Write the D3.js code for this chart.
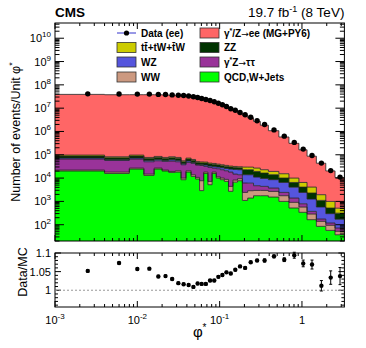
<!DOCTYPE html>
<html>
<head>
<meta charset="utf-8">
<script src="https://cdn.jsdelivr.net/npm/d3@7"></script>
<style>
  html, body { margin: 0; padding: 0; background: #fff; }
  svg { display: block; font-family: "Liberation Sans", Arial, Helvetica, sans-serif; }
</style>
</head>
<body>
<div id="chart"></div>
<script>
// ---- data ----
// phi* bin edges
const edges = [0.001, 0.004, 0.008, 0.012, 0.016, 0.020, 0.024, 0.029, 0.034, 0.039, 0.045,
  0.051, 0.057, 0.064, 0.072, 0.081, 0.091, 0.102, 0.114, 0.128, 0.145, 0.165, 0.189,
  0.219, 0.258, 0.312, 0.391, 0.524, 0.695, 0.918, 1.153, 1.496, 1.947, 2.522, 3.277];

// data (ee), events / unit phi*
const dataEE = [4.1e7, 4.05e7, 4.0e7, 4.0e7, 3.9e7, 3.85e7, 3.7e7, 3.6e7, 3.5e7, 3.3e7,
  3.1e7, 2.86e7, 2.58e7, 2.35e7, 2.14e7, 1.87e7, 1.63e7, 1.39e7, 1.17e7, 9.5e6,
  8.1e6, 6.5e6, 5.2e6, 4.1e6, 2.9e6, 2.0e6, 1.17e6, 6.3e5, 3.4e5, 1.75e5,
  9.3e4, 4.4e4, 2.1e4, 1.1e4];

// gamma*/Z -> ee (MG+PY6)
const dyEE = [3.89e7, 3.76e7, 3.77e7, 3.77e7, 3.75e7, 3.70e7, 3.58e7, 3.52e7, 3.44e7, 3.25e7,
  3.07e7, 2.81e7, 2.54e7, 2.31e7, 2.09e7, 1.82e7, 1.57e7, 1.33e7, 1.11e7, 9.05e6,
  7.6e6, 6.1e6, 4.9e6, 3.8e6, 2.68e6, 1.83e6, 1.06e6, 5.65e5, 3.0e5, 1.57e5,
  8.3e4, 4.15e4, 1.93e4, 1.01e4];

// backgrounds, in thousands of events / unit phi*
const K = 1e3;
const qcdWJets = [20.0, 15.8, 24.3, 13.0, 24.3, 20.0, 17.5, 18.1, 8.5, 18.1, 11.8, 9.1, 2.9,
  15.8, 5.2, 15.8, 10.0, 8.5, 7.2, 2.7, 6.7, 7.7, 1.10, 1.39, 1.75, 1.75, 1.53, 1.0,
  0.52, 0.34, 0.164, 0.085, 0.057, 0.037];
const ww = [2.0, 2.3, 2.5, 1.8, 2.5, 2.0, 1.8, 2.5, 1.5, 2.5, 2.1, 1.6, 4.8, 2.3, 2.0, 2.3,
  1.4, 1.5, 1.6, 1.7, 1.5, 1.7, 1.33, 1.48, 1.21, 1.21, 1.15, 0.75, 0.39, 0.23, 0.122,
  0.054, 0.037, 0.015];
const zTauTau = [43.2, 39.0, 38.4, 35.3, 28.5, 29.8, 34.2, 29.5, 27.3, 26.3, 28.6, 25.3, 27.2,
  13.5, 21.4, 8.7, 13.7, 12.8, 11.8, 13.7, 6.6, 4.5, 3.7, 3.2, 1.74, 1.44, 1.05, 0.68,
  0.48, 0.22, 0.087, 0.036, 0.024, 0.020];
const wz = [6.8, 4.0, 6.8, 7.1, 7.9, 5.4, 7.6, 7.1, 3.8, 6.6, 4.4, 2.5, 2.0, 4.5, 4.1, 4.8,
  4.5, 5.0, 5.4, 6.2, 8.7, 8.9, 7.8, 7.8, 6.3, 5.3, 4.8, 4.1, 2.7, 1.64, 0.89, 0.40,
  0.18, 0.10];
const zz = [15.7, 13.3, 15.7, 12.5, 13.8, 12.5, 13.3, 12.5, 9.0, 11.6, 10.2, 8.4, 7.9, 7.9,
  7.1, 6.9, 6.4, 6.0, 5.7, 5.3, 5.1, 5.0, 8.9, 8.9, 8.3, 6.7, 5.4, 3.5, 2.4, 1.67, 1.02,
  0.53, 0.22, 0.14];
const ttbar = [9.1, 7.7, 9.1, 7.2, 8.0, 7.2, 7.7, 7.2, 5.2, 6.8, 5.9, 4.9, 4.6, 4.6, 4.1, 4.0,
  3.7, 3.5, 3.3, 3.1, 3.0, 2.9, 6.8, 6.8, 7.5, 6.4, 5.4, 5.3, 3.5, 2.4, 1.82, 0.83, 0.48,
  0.20];

// Data/MC
const ratio = [1.052, 1.073, 1.057, 1.058, 1.037, 1.038, 1.030, 1.019, 1.016, 1.014, 1.009,
  1.018, 1.017, 1.017, 1.026, 1.026, 1.036, 1.041, 1.048, 1.045, 1.055, 1.064, 1.060,
  1.075, 1.080, 1.080, 1.091, 1.082, 1.094, 1.072, 1.069, 1.012, 1.034, 1.038];
const ratioErr = [0.003, 0.003, 0.003, 0.003, 0.003, 0.003, 0.003, 0.003, 0.003, 0.003,
  0.003, 0.003, 0.003, 0.003, 0.003, 0.003, 0.003, 0.003, 0.003, 0.003, 0.003, 0.003,
  0.003, 0.003, 0.003, 0.004, 0.004, 0.005, 0.008, 0.009, 0.012, 0.014, 0.018, 0.023];

const xTickLabels = [{v: 1e-3, b: "10", e: "-3"}, {v: 1e-2, b: "10", e: "-2"},
  {v: 1e-1, b: "10", e: "-1"}, {v: 1, b: "1", e: ""}];
const ratioTickLabels = ["1", "1.05", "1.1"];

// ---- layout ----
const W = 366, H = 348;
const main = {l: 55, r: 344.4, t: 23, b: 241};
const rat = {l: 55, r: 344.4, t: 253, b: 307};

const svg = d3.select("#chart").append("svg").attr("width", W).attr("height", H);
svg.append("rect").attr("width", W).attr("height", H).attr("fill", "#fff");

const x = d3.scaleLog().domain([edges[0], edges[edges.length - 1]]).range([main.l, main.r]);
const y = d3.scaleLog().domain([20, 4.5e10]).range([main.b, main.t]).clamp(true);
const yr = d3.scaleLinear().domain([0.955, 1.1]).range([rat.b, rat.t]);

const n = edges.length - 1;
const centers = d3.range(n).map(i => (edges[i] + edges[i + 1]) / 2);

// stacked histograms, bottom to top
const layers = [
  {key: "qcd", vals: qcdWJets, k: K, fill: "#00ff00"},
  {key: "ww", vals: ww, k: K, fill: "#cc9980"},
  {key: "ztt", vals: zTauTau, k: K, fill: "#993399"},
  {key: "wz", vals: wz, k: K, fill: "#5555dd"},
  {key: "zz", vals: zz, k: K, fill: "#003300"},
  {key: "tt", vals: ttbar, k: K, fill: "#cccc00"},
  {key: "sig", vals: dyEE, k: 1, fill: "#ff6666"}
];
const rows = d3.range(n).map(i => {
  const r = {};
  layers.forEach(L => r[L.key] = L.vals[i] * L.k);
  return r;
});
const series = d3.stack().keys(layers.map(L => L.key))(rows);

svg.append("clipPath").attr("id", "clipMain")
  .append("rect").attr("x", main.l).attr("y", main.t)
  .attr("width", main.r - main.l).attr("height", main.b - main.t);

const gHist = svg.append("g").attr("clip-path", "url(#clipMain)");
const area = d3.area().curve(d3.curveStepAfter)
  .x(d => x(d.e)).y0(d => y(Math.max(d.lo, 1))).y1(d => y(d.hi));
const line = d3.line().curve(d3.curveStepAfter).x(d => x(d.e)).y(d => y(d.hi));

function stepPoints(s) {
  const pts = s.map((d, i) => ({e: edges[i], lo: d[0], hi: d[1]}));
  pts.push({e: edges[n], lo: s[n - 1][0], hi: s[n - 1][1]});
  return pts;
}
series.forEach((s, li) => {
  gHist.append("path").attr("d", area(stepPoints(s))).attr("fill", layers[li].fill);
});
series.forEach(s => {
  gHist.append("path").attr("d", line(stepPoints(s))).attr("fill", "none")
    .attr("stroke", "#222").attr("stroke-width", 0.8);
});

// data points
svg.append("g").selectAll("circle").data(dataEE).join("circle")
  .attr("cx", (d, i) => x(centers[i])).attr("cy", d => y(d)).attr("r", 2.7).attr("fill", "#000");

// ---- ticks ----
function logTicks(domain) {
  const out = [];
  const lo = Math.floor(Math.log10(domain[0])), hi = Math.ceil(Math.log10(domain[1]));
  for (let d = lo; d <= hi; d++) {
    for (let m = 1; m <= 9; m++) {
      const v = m * Math.pow(10, d);
      if (v >= domain[0] * 0.9999 && v <= domain[1] * 1.0001) out.push({v, major: m === 1});
    }
  }
  return out;
}
const axes = svg.append("g").attr("stroke", "#000").attr("stroke-width", 1);

function xTicks(box, majorLen, minorLen) {
  logTicks(x.domain()).forEach(t => {
    const px = x(t.v), len = t.major ? majorLen : minorLen;
    axes.append("line").attr("x1", px).attr("x2", px).attr("y1", box.b).attr("y2", box.b - len);
    axes.append("line").attr("x1", px).attr("x2", px).attr("y1", box.t).attr("y2", box.t + len);
  });
}
xTicks(main, 6, 3);
xTicks(rat, 6, 3);

logTicks(y.domain()).forEach(t => {
  const py = y(t.v), len = t.major ? 9 : 4.5;
  axes.append("line").attr("x1", main.l).attr("x2", main.l + len).attr("y1", py).attr("y2", py);
  axes.append("line").attr("x1", main.r).attr("x2", main.r - len).attr("y1", py).attr("y2", py);
});

d3.range(0.96, 1.1001, 0.01).forEach(v => {
  const major = Math.abs(v * 100 - Math.round(v * 20) * 5) < 1e-6;
  const py = yr(v), len = major ? 6 : 3;
  axes.append("line").attr("x1", rat.l).attr("x2", rat.l + len).attr("y1", py).attr("y2", py);
  axes.append("line").attr("x1", rat.r).attr("x2", rat.r - len).attr("y1", py).attr("y2", py);
});

// frames
[main, rat].forEach(b => {
  svg.append("rect").attr("x", b.l).attr("y", b.t).attr("width", b.r - b.l).attr("height", b.b - b.t)
    .attr("fill", "none").attr("stroke", "#000").attr("stroke-width", 1);
});

// ---- labels ----
const yLab = svg.append("g").attr("font-size", 11).attr("fill", "#000");
d3.range(2, 11).forEach(p => {
  const t = yLab.append("text").attr("x", 51).attr("y", y(Math.pow(10, p)) + 4).attr("text-anchor", "end");
  t.append("tspan").text("10");
  t.append("tspan").attr("dy", -5).attr("font-size", 8).text(p);
});

xTickLabels.forEach(d => {
  const t = svg.append("text").attr("x", x(d.v)).attr("y", 324).attr("text-anchor", "middle").attr("font-size", 11);
  t.append("tspan").text(d.b);
  if (d.e) t.append("tspan").attr("dy", -5).attr("font-size", 8).text(d.e);
});

ratioTickLabels.forEach(s => {
  svg.append("text").attr("x", 51).attr("y", yr(+s) + 4).attr("text-anchor", "end")
    .attr("font-size", 11).text(s);
});

// axis titles
const yTitle = svg.append("text").attr("transform", `translate(20,${(main.t + main.b) / 2}) rotate(-90)`)
  .attr("text-anchor", "middle").attr("font-size", 12.5);
yTitle.append("tspan").text("Number of events/Unit φ");
yTitle.append("tspan").attr("dy", -5).attr("font-size", 9).text("*");

svg.append("text").attr("transform", `translate(27,${(rat.t + rat.b) / 2 - 8}) rotate(-90)`)
  .attr("text-anchor", "middle").attr("font-size", 12.5).text("Data/MC");

const xTitle = svg.append("text").attr("x", (main.l + main.r) / 2).attr("y", 337)
  .attr("text-anchor", "middle").attr("font-size", 15);
xTitle.append("tspan").text("φ");
xTitle.append("tspan").attr("dy", -6).attr("font-size", 10).text("*");

// header
svg.append("text").attr("x", main.l).attr("y", 17).attr("font-size", 13.5).attr("font-weight", "bold").text("CMS");
const lumi = svg.append("text").attr("x", main.r).attr("y", 17).attr("text-anchor", "end").attr("font-size", 13.5);
lumi.append("tspan").text("19.7 fb");
lumi.append("tspan").attr("dy", -5).attr("font-size", 9).text("-1");
lumi.append("tspan").attr("dy", 5).text(" (8 TeV)");

// ---- ratio panel ----
svg.append("line").attr("x1", rat.l).attr("x2", rat.r).attr("y1", yr(1)).attr("y2", yr(1))
  .attr("stroke", "#999").attr("stroke-width", 1).attr("stroke-dasharray", "2,2");
const gR = svg.append("g");
ratio.forEach((r, i) => {
  const px = x(centers[i]);
  gR.append("line").attr("x1", px).attr("x2", px).attr("y1", yr(r - ratioErr[i])).attr("y2", yr(r + ratioErr[i]))
    .attr("stroke", "#000").attr("stroke-width", 1);
  [r - ratioErr[i], r + ratioErr[i]].forEach(v => {
    gR.append("line").attr("x1", px - 1.5).attr("x2", px + 1.5).attr("y1", yr(v)).attr("y2", yr(v))
      .attr("stroke", "#000").attr("stroke-width", 1);
  });
  gR.append("circle").attr("cx", px).attr("cy", yr(r)).attr("r", 2.2).attr("fill", "#000");
});

// ---- legend ----
// label pieces: [text, kind]; kind "sup" = superscript, "arr" = arrow glyph
const legend = [
  {col: 0, row: 0, type: "data", label: [["Data (ee)"]]},
  {col: 1, row: 0, fill: "#ff6666", label: [["γ"], ["*", "sup"], ["/Z"], ["→", "arr"], ["ee (MG+PY6)"]]},
  {col: 0, row: 1, fill: "#cccc00", label: [["tt̄+tW+t̄W"]]},
  {col: 1, row: 1, fill: "#003300", label: [["ZZ"]]},
  {col: 0, row: 2, fill: "#5555dd", label: [["WZ"]]},
  {col: 1, row: 2, fill: "#993399", label: [["γ"], ["*", "sup"], ["Z"], ["→", "arr"], ["ττ"]]},
  {col: 0, row: 3, fill: "#cc9980", label: [["WW"]]},
  {col: 1, row: 3, fill: "#00ff00", label: [["QCD,W+Jets"]]}
];
const colX = [117, 200], rowY = [33, 47.5, 62, 77];
const gL = svg.append("g");
legend.forEach(e => {
  const bx = colX[e.col], cy = rowY[e.row];
  if (e.type === "data") {
    gL.append("line").attr("x1", bx).attr("x2", bx + 19).attr("y1", cy).attr("y2", cy)
      .attr("stroke", "#3333cc").attr("stroke-width", 1);
    gL.append("circle").attr("cx", bx + 9.5).attr("cy", cy).attr("r", 2.6).attr("fill", "#000");
  } else {
    gL.append("rect").attr("x", bx).attr("y", cy - 5).attr("width", 19).attr("height", 10)
      .attr("fill", e.fill).attr("stroke", "#333").attr("stroke-width", 0.8);
  }
  const t = gL.append("text").attr("x", bx + 24).attr("y", cy + 3.6)
    .attr("font-size", 10).attr("font-weight", "bold");
  let raised = false;
  e.label.forEach(([s, kind]) => {
    const sp = t.append("tspan").text(s);
    if (kind === "sup") { sp.attr("dy", -4).attr("font-size", 7); raised = true; }
    else {
      if (raised) { sp.attr("dy", 4); raised = false; }
      if (kind === "arr") sp.attr("font-family", "DejaVu Sans").attr("font-weight", "normal").attr("font-size", 9);
    }
  });
});
</script>
</body>
</html>
